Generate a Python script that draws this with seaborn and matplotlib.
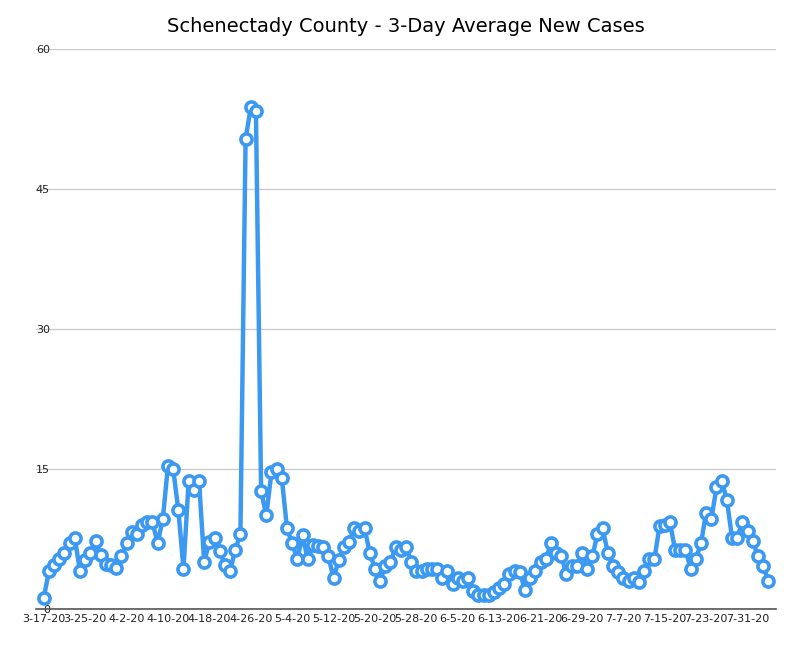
import matplotlib
matplotlib.use("Agg")
import matplotlib.pyplot as plt
import seaborn as sns
import pandas as pd
import numpy as np

values = [1.2,4.0,4.7,5.3,6.0,7.0,7.6,4.0,5.2,6.0,
7.3,5.8,4.8,4.7,4.4,5.7,7.0,8.2,8.0,9.0,
9.3,9.3,7.0,9.6,15.3,15.0,10.6,4.3,13.7,12.7,
13.7,5.0,7.2,7.6,6.2,4.7,4.0,6.3,8.0,50.3,
53.7,53.3,12.6,10.0,14.6,15.0,14.0,8.6,7.0,5.3,
7.9,5.3,6.8,6.7,6.6,5.6,3.3,5.2,6.6,7.2,
8.6,8.3,8.6,6.0,4.3,3.0,4.6,5.0,6.6,6.3,
6.6,5.0,4.0,4.0,4.3,4.3,4.3,3.3,4.0,2.7,
3.3,3.0,3.3,1.9,1.5,1.5,1.5,1.8,2.2,2.6,
3.7,4.0,3.9,2.0,3.3,4.0,5.0,5.3,7.0,6.0,
5.7,3.7,4.6,4.6,6.0,4.3,5.6,8.0,8.6,6.0,
4.6,3.9,3.3,3.0,3.3,2.9,4.0,5.3,5.3,8.9,
9.0,9.3,6.3,6.3,6.3,4.3,5.3,7.0,10.3,9.6,
13.0,13.7,11.7,7.6,7.6,9.3,8.3,7.3,5.6,4.6,
3.0]
dates = pd.date_range("2020-03-17", periods=len(values), freq="D")
labels = [f"{d.month}-{d.day}-20" for d in dates]
df = pd.DataFrame({"day": np.arange(len(values)), "cases": values})

fig, ax = plt.subplots(figsize=(8, 6.49), dpi=100)
fig.subplots_adjust(left=0.045, right=0.97, top=0.925, bottom=0.062)
color = "#3b99f2"
sns.lineplot(data=df, x="day", y="cases", ax=ax, color=color, lw=3.2,
             marker="o", markersize=8, markerfacecolor="white",
             markeredgecolor=color, markeredgewidth=2.6)
ax.set_ylim(0, 60)
ax.set_yticks([0, 15, 30, 45, 60])
ax.set_xlim(-1.5, len(values) + 0.5)
ticks = list(range(0, len(values), 8))
ax.set_xticks(ticks)
ax.set_xticklabels([labels[i] for i in ticks])
ax.tick_params(axis="both", length=0, labelsize=8, colors="#222222")
ax.tick_params(axis="y", pad=-10)
for lab in ax.get_yticklabels():
    lab.set_horizontalalignment("right")
ax.grid(axis="y", color="#cccccc", lw=1)
ax.set_axisbelow(True)
for s in ["top", "right", "left"]:
    ax.spines[s].set_visible(False)
ax.spines["bottom"].set_color("#555555")
ax.spines["bottom"].set_linewidth(1.2)
ax.set_xlabel("")
ax.set_ylabel("")
ax.set_title("Schenectady County - 3-Day Average New Cases", fontsize=14, pad=12)
fig.savefig("out.png", dpi=100)
